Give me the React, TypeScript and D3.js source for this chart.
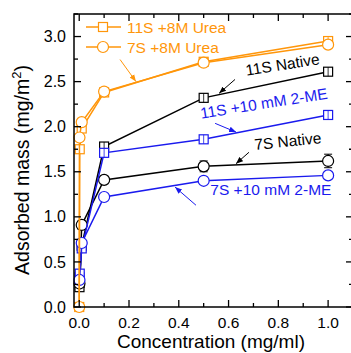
import React from "react";
import * as d3 from "d3";

// ---- data ----
const urea11S_x = [0, 0.002, 0.01, 0.1, 0.5, 1.0];
const urea11S_y = [0, 1.75, 1.98, 2.38, 2.72, 2.95];
const urea11S_e = [0, 0, 0, 0.01, 0.01, 0.02];

const urea7S_x = [0, 0.001, 0.01, 0.1, 0.5, 1.0];
const urea7S_y = [0, 1.88, 2.05, 2.39, 2.71, 2.91];
const urea7S_e = [0, 0, 0, 0.01, 0.01, 0.01];

const native11S_x = [0.001, 0.002, 0.01, 0.1, 0.5, 1.0];
const native11S_y = [0.22, 0.27, 0.68, 1.78, 2.32, 2.61];
const native11S_e = [0.02, 0.02, 0.02, 0.03, 0.03, 0.02];

const me11S_x = [0.001, 0.002, 0.01, 0.1, 0.5, 1.0];
const me11S_y = [0.33, 0.37, 0.65, 1.71, 1.86, 2.13];
const me11S_e = [0.02, 0.02, 0.02, 0.03, 0.02, 0.05];

const native7S_x = [0.001, 0.01, 0.1, 0.5, 1.0];
const native7S_y = [0.26, 0.91, 1.41, 1.56, 1.62];
const native7S_e = [0.02, 0.05, 0.04, 0.06, 0.075];

const me7S_x = [0.001, 0.01, 0.1, 0.5, 1.0];
const me7S_y = [0.30, 0.71, 1.22, 1.40, 1.46];
const me7S_e = [0.01, 0.02, 0.01, 0.01, 0.01];

const xTicks = [0, 0.2, 0.4, 0.6, 0.8, 1.0];
const xMinor = [0.1, 0.3, 0.5, 0.7, 0.9, 1.1];
const yTicks = [0, 0.5, 1.0, 1.5, 2.0, 2.5, 3.0];
const yMinor = [0.25, 0.75, 1.25, 1.75, 2.25, 2.75, 3.25];

const ORANGE = "#ff960a";
const BLUE = "#1a1aee";
const BLACK = "#000";

type Series = { xs: number[]; ys: number[]; es: number[]; color: string; shape: "square" | "circle" };
const series: Series[] = [
  { xs: native11S_x, ys: native11S_y, es: native11S_e, color: BLACK, shape: "square" },
  { xs: native7S_x, ys: native7S_y, es: native7S_e, color: BLACK, shape: "circle" },
  { xs: me11S_x, ys: me11S_y, es: me11S_e, color: BLUE, shape: "square" },
  { xs: me7S_x, ys: me7S_y, es: me7S_e, color: BLUE, shape: "circle" },
  { xs: urea11S_x, ys: urea11S_y, es: urea11S_e, color: ORANGE, shape: "square" },
  { xs: urea7S_x, ys: urea7S_y, es: urea7S_e, color: ORANGE, shape: "circle" },
];

// annotations in data units
const annotations = [
  { text: "11S Native", x: 0.82, y: 2.63, angle: -9, color: BLACK },
  { text: "11S +10 mM 2-ME", x: 0.745, y: 2.2, angle: -9, color: BLUE },
  { text: "7S Native", x: 0.84, y: 1.78, angle: -6, color: BLACK },
  { text: "7S +10 mM 2-ME", x: 0.77, y: 1.245, angle: 0, color: BLUE },
];
const arrows = [
  { x1: 0.164, y1: 2.745, x2: 0.228, y2: 2.5, color: ORANGE, id: "ao" },
  { x1: 0.626, y1: 2.524, x2: 0.562, y2: 2.37, color: BLACK, id: "ak" },
  { x1: 0.546, y1: 2.037, x2: 0.63, y2: 1.94, color: BLUE, id: "ab" },
  { x1: 0.682, y1: 1.716, x2: 0.63, y2: 1.59, color: BLACK, id: "ak" },
  { x1: 0.469, y1: 1.129, x2: 0.385, y2: 1.33, color: BLUE, id: "ab" },
];

const W = 351, H = 353;
const L = 74, R = 353, T = 14, B = 307;
const FONT = "Liberation Sans, Arial, sans-serif";

function Marker({ cx, cy, shape, color }: { cx: number; cy: number; shape: string; color: string }) {
  if (shape === "square")
    return <rect x={cx - 4.5} y={cy - 4.5} width={9} height={9} fill="#fff" stroke={color} strokeWidth={1.2} />;
  return <circle cx={cx} cy={cy} r={5.5} fill="#fff" stroke={color} strokeWidth={1.2} />;
}

export default function App() {
  const x = d3.scaleLinear().domain([-0.021, 1.1]).range([L, R]);
  const y = d3.scaleLinear().domain([0, 3.25]).range([B, T]);
  const line = d3.line<[number, number]>().x((d) => x(d[0])).y((d) => y(d[1]));

  return (
    <svg width={W} height={H} style={{ position: "fixed", left: 0, top: 0, background: "#fff" }} fontFamily={FONT}>
      <defs>
        {[["ao", ORANGE], ["ak", BLACK], ["ab", BLUE]].map(([id, c]) => (
          <marker key={id} id={id} viewBox="0 0 10 10" refX={10} refY={5} markerWidth={7} markerHeight={7} orient="auto" markerUnits="userSpaceOnUse">
            <path d="M0,1 L10,5 L0,9 Z" fill={c} />
          </marker>
        ))}
      </defs>

      {/* series */}
      {series.map((s, i) => {
        const pts = s.xs.map((v, j) => [v, s.ys[j]] as [number, number]);
        return (
          <g key={i}>
            <path d={line(pts) || ""} fill="none" stroke={s.color} strokeWidth={1.5} />
            {pts.map((p, j) => {
              const e = s.es[j];
              const cx = x(p[0]);
              return (
                <g key={j}>
                  {e > 0 && (
                    <g stroke={s.color} strokeWidth={1}>
                      <line x1={cx} x2={cx} y1={y(p[1] - e)} y2={y(p[1] + e)} />
                      <line x1={cx - 4} x2={cx + 4} y1={y(p[1] - e)} y2={y(p[1] - e)} />
                      <line x1={cx - 4} x2={cx + 4} y1={y(p[1] + e)} y2={y(p[1] + e)} />
                    </g>
                  )}
                  <Marker cx={cx} cy={y(p[1])} shape={s.shape} color={s.color} />
                  {e > 0 && e < 0.06 && s.shape === "square" && (
                    <line x1={cx} x2={cx} y1={y(p[1]) - 4.5} y2={y(p[1]) + 4.5} stroke={s.color} strokeWidth={0.8} />
                  )}
                </g>
              );
            })}
          </g>
        );
      })}

      {/* frame */}
      <rect x={L} y={T} width={R - L} height={B - T} fill="none" stroke="#000" strokeWidth={1.5} />

      {/* ticks */}
      <g stroke="#000" strokeWidth={1.3}>
        {xTicks.map((t) => (
          <g key={"xt" + t}>
            <line x1={x(t)} x2={x(t)} y1={B} y2={B - 7} />
            <line x1={x(t)} x2={x(t)} y1={T} y2={T + 7} />
          </g>
        ))}
        {xMinor.map((t) => (
          <g key={"xm" + t}>
            <line x1={x(t)} x2={x(t)} y1={B} y2={B - 4} />
            <line x1={x(t)} x2={x(t)} y1={T} y2={T + 4} />
          </g>
        ))}
        {yTicks.map((t) => (
          <g key={"yt" + t}>
            <line x1={L} x2={L + 7} y1={y(t)} y2={y(t)} />
            <line x1={R} x2={R - 7} y1={y(t)} y2={y(t)} />
          </g>
        ))}
        {yMinor.map((t) => (
          <g key={"ym" + t}>
            <line x1={L} x2={L + 4} y1={y(t)} y2={y(t)} />
            <line x1={R} x2={R - 4} y1={y(t)} y2={y(t)} />
          </g>
        ))}
      </g>

      {/* tick labels */}
      <g fontSize={15.5} fill="#000">
        {xTicks.map((t) => (
          <text key={"xl" + t} x={x(t)} y={B + 21} textAnchor="middle">{d3.format(".1f")(t)}</text>
        ))}
        {yTicks.map((t) => (
          <text key={"yl" + t} x={L - 8} y={y(t)} dy="0.35em" textAnchor="end" fontSize={16}>{d3.format(".1f")(t)}</text>
        ))}
      </g>

      {/* axis titles */}
      <text x={(L + 348) / 2} y={348} textAnchor="middle" fontSize={19}>Concentration (mg/ml)</text>
      <text transform={`translate(29,${170}) rotate(-90)`} textAnchor="middle" fontSize={19.5}>
        Adsorbed mass (mg/m<tspan dy={-8} fontSize={13}>2</tspan><tspan dy={8}>)</tspan>
      </text>

      {/* legend */}
      <g>
        <line x1={86} x2={121} y1={27} y2={27} stroke={ORANGE} strokeWidth={1.5} />
        <Marker cx={103} cy={27} shape="square" color={ORANGE} />
        <text x={127} y={33} fontSize={15.5} fill={ORANGE}>11S +8M Urea</text>
        <line x1={86} x2={121} y1={47} y2={47} stroke={ORANGE} strokeWidth={1.5} />
        <Marker cx={103} cy={47} shape="circle" color={ORANGE} />
        <text x={127} y={53} fontSize={15.5} fill={ORANGE}>7S +8M Urea</text>
      </g>

      {/* annotations */}
      {annotations.map((a, i) => (
        <text key={i} transform={`translate(${x(a.x)},${y(a.y)}) rotate(${a.angle})`} textAnchor="middle" fontSize={15.5} fill={a.color}>
          {a.text}
        </text>
      ))}
      {arrows.map((a, i) => (
        <line key={i} x1={x(a.x1)} y1={y(a.y1)} x2={x(a.x2)} y2={y(a.y2)} stroke={a.color} strokeWidth={1} markerEnd={`url(#${a.id})`} />
      ))}
    </svg>
  );
}
